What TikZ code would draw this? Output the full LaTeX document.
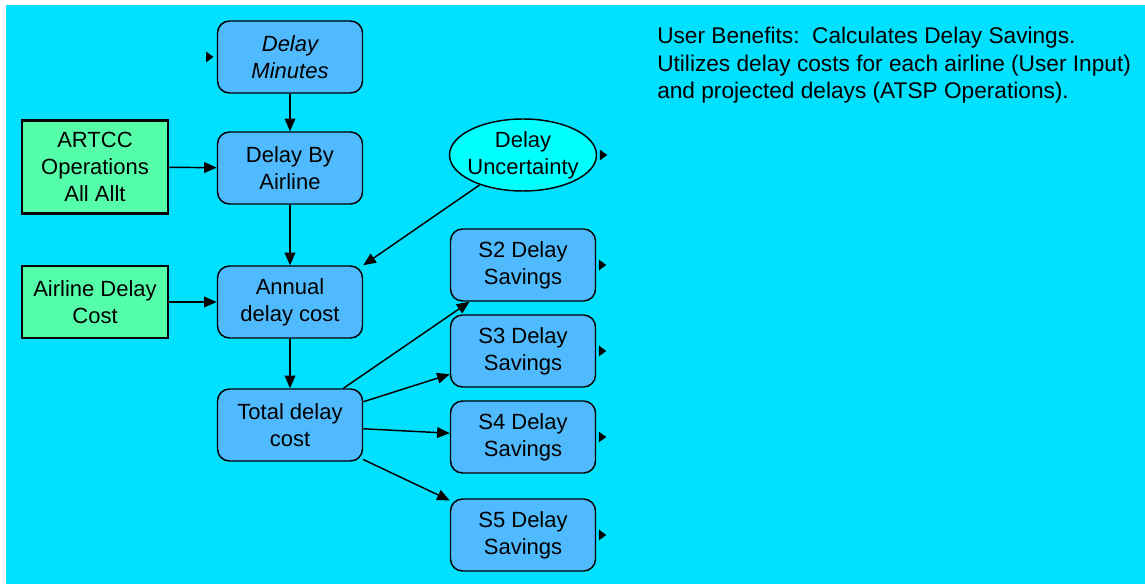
\documentclass[tikz,border=0pt]{standalone}
\usepackage{fontspec}
\setmainfont{Liberation Sans}
\usetikzlibrary{arrows.meta,shapes.geometric}
\definecolor{bgcyan}{RGB}{0,224,255}
\definecolor{boxblue}{RGB}{80,186,255}
\definecolor{boxgreen}{RGB}{85,255,170}
\definecolor{elcyan}{RGB}{0,255,255}
\tikzset{
  every node/.style={font=\fontsize{16.5}{20.5}\selectfont, align=center, inner sep=0pt},
  varbox/.style={draw=black, line width=1.1pt, fill=boxblue, rounded corners=9pt,
    minimum width=108.75pt, minimum height=54pt},
  inbox/.style={draw=black, line width=2.2pt, fill=boxgreen,
    minimum width=109.5pt},
  chance/.style={draw=black, line width=1.1pt, fill=elcyan, ellipse, inner xsep=-4pt,
    minimum width=110.25pt, minimum height=54pt},
  link/.style={draw=black, line width=1.1pt, -{Triangle[length=9.5pt,width=8pt]}},
  stub/.style={fill=black}
}
\begin{document}
\begin{tikzpicture}[x=0.75pt,y=-0.75pt]
\useasboundingbox (0,0) rectangle (1145,584);
\fill[bgcyan] (6,5) rectangle (1145,584);

\node[varbox] (dm) at (290,57) {\itshape Delay\\\itshape Minutes};
\node[varbox] (dba) at (290,168) {Delay By\\Airline};
\node[varbox] (adc) at (290,302) {Annual\\delay cost};
\node[varbox] (tdc) at (290,425) {Total delay\\cost};
\node[inbox, minimum height=69.75pt] (artcc) at (95,167) {ARTCC\\Operations\\All Allt};
\node[inbox, minimum height=54pt] (alc) at (95,302) {Airline Delay\\Cost};
\node[chance] (du) at (523,155) {Delay\\Uncertainty};
\node[varbox] (s2) at (523,265) {S2 Delay\\Savings};
\node[varbox] (s3) at (523,351) {S3 Delay\\Savings};
\node[varbox] (s4) at (523,437) {S4 Delay\\Savings};
\node[varbox] (s5) at (523,535) {S5 Delay\\Savings};

\node[anchor=north west, align=left, font=\fontsize{17}{20.6}\selectfont] (note) at (657,27)
  {User Benefits:\ \ Calculates Delay Savings.\\
   Utilizes delay costs for each airline (User Input)\\
   and projected delays (ATSP Operations).};

\draw[link] (dm) -- (dba);
\draw[link] (artcc) -- (dba);
\draw[link] (dba) -- (adc);
\draw[link] (alc) -- (adc);
\draw[link] (du) -- (adc.north east);
\draw[link] (adc) -- (tdc);
\draw[link] (tdc) -- (s2);
\draw[link] (tdc) -- (s3);
\draw[link] (tdc) -- (s4);
\draw[link] (tdc) -- (s5);

\foreach \n/\dx in {dm/-10, du/4, s2/4, s3/4, s4/4, s5/4}{
  \ifnum\dx<0
    \fill[stub] ([xshift=-8pt,yshift=-4pt]\n.west) -- ++(5.5pt,4pt) -- ++(-5.5pt,4pt) -- cycle;
  \else
    \fill[stub] ([xshift=2pt,yshift=4pt]\n.east) -- ++(5.5pt,-4pt) -- ++(-5.5pt,-4pt) -- cycle;
  \fi
}
\end{tikzpicture}
\end{document}
